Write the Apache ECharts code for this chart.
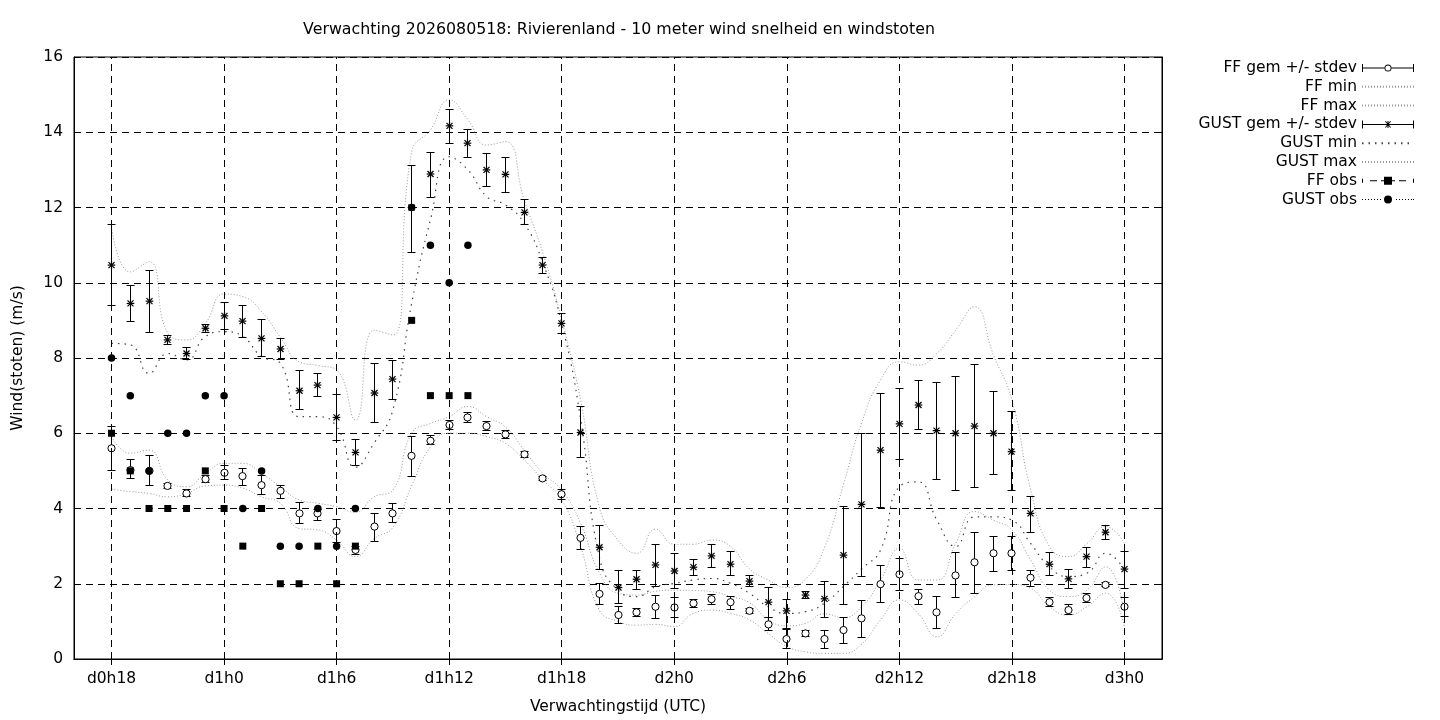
<!DOCTYPE html>
<html>
<head>
<meta charset="utf-8">
<title>Verwachting Rivierenland</title>
<script src="https://cdn.jsdelivr.net/npm/echarts@6/dist/echarts.min.js"></script>
<style>
html, body { margin: 0; padding: 0; background: #fff; }
#container { width: 1440px; height: 720px; }
</style>
</head>
<body>
<div id="container"></div>
<script>
// forecast hours, counted from d0h0
var hours = [18,19,20,21,22,23,24,25,26,27,28,29,30,31,32,33,34,35,36,37,
             38,39,40,41,42,43,44,45,46,47,48,49,50,51,52,53,54,55,56,57,
             58,59,60,61,62,63,64,65,66,67,68,69,70,71,72];

// 10 m wind (FF): mean and mean -/+ stdev
var ffMean = [5.60,5.02,5.00,4.60,4.40,4.78,4.95,4.86,4.62,4.47, 3.87,3.87,3.40,2.90,3.52,3.87,5.40,5.80,6.22,6.42,
              6.19,5.97,5.44,4.80,4.38,3.22,1.73,1.17,1.24,1.39, 1.37,1.48,1.59,1.51,1.28,0.92,0.53,0.68,0.53,0.77,
              1.08,1.99,2.25,1.67,1.24,2.22,2.57,2.81,2.81,2.16, 1.51,1.30,1.62,1.97,1.39];
var ffLo   = [5.02,4.80,4.61,4.52,4.31,4.69,4.76,4.61,4.38,4.27, 3.59,3.68,3.09,2.77,3.13,3.62,4.86,5.71,6.09,6.29,
              6.07,5.87,5.36,4.74,4.25,2.92,1.44,0.95,1.12,1.08, 1.11,1.37,1.44,1.32,1.20,0.75,0.28,0.59,0.28,0.40,
              0.58,1.51,1.83,1.46,0.82,1.64,1.75,2.32,2.34,1.94, 1.39,1.18,1.50,1.92,1.12];
var ffHi   = [6.17,5.31,5.42,4.67,4.50,4.89,5.13,5.06,4.89,4.61, 4.15,3.98,3.71,3.00,3.87,4.14,5.91,5.93,6.35,6.55,
              6.31,6.07,5.51,4.86,4.51,3.52,2.01,1.39,1.35,1.70, 1.64,1.57,1.72,1.67,1.34,1.10,0.79,0.77,0.77,1.10,
              1.55,2.48,2.68,1.85,1.66,2.83,3.37,3.25,3.25,2.35, 1.64,1.44,1.75,2.02,1.64];
var ffMin  = [4.51,4.45,4.40,4.31,4.40,4.60,4.62,4.54,4.31,4.14, 3.47,3.43,3.16,2.72,3.20,3.50,4.60,5.64,6.00,6.00,
              5.91,5.73,5.29,4.76,4.23,3.00,1.30,1.00,0.90,0.92, 0.86,1.21,1.30,1.21,1.04,0.68,0.33,0.19,0.15,0.15,
              0.40,1.04,1.57,1.21,0.59,1.20,1.65,1.97,1.98,1.88, 1.39,1.17,1.39,1.75,0.86];
var ffMax  = [5.91,5.47,5.55,4.76,4.58,4.93,5.20,5.20,4.93,4.58, 4.23,4.14,4.05,3.90,4.31,4.49,6.00,6.26,6.44,6.71,
              6.44,6.17,5.55,4.93,4.49,3.61,2.30,1.75,1.70,1.80, 1.83,1.82,1.79,1.66,1.50,1.05,0.88,0.95,1.20,1.10,
              1.39,2.10,2.94,2.10,2.10,3.07,3.92,3.69,3.43,2.63, 1.83,1.66,1.83,2.45,1.21];

// gusts: mean and mean -/+ stdev
var gustMean = [10.47,9.45,9.51,8.48,8.12,8.79,9.12,8.98,8.52,8.24, 7.13,7.28,6.42,5.49,7.07,7.44,12.00,12.89,14.17,13.71,
                13.00,12.88,11.87,10.47,8.92,6.02,2.97,1.90,2.12,2.50, 2.34,2.44,2.74,2.52,2.07,1.51,1.28,1.70,1.60,2.76,
                4.11,5.55,6.25,6.75,6.07,6.00,6.19,6.00,5.51,3.87, 2.52,2.13,2.72,3.37,2.39];
var gustLo   = [9.39,8.98,8.68,8.36,7.97,8.68,8.76,8.55,8.05,7.95, 6.64,6.99,5.82,5.13,6.28,6.90,10.81,12.27,13.71,13.33,
                12.55,12.40,11.55,10.25,8.66,5.36,2.38,1.48,1.84,1.94, 1.88,2.23,2.44,2.21,1.92,1.11,0.82,1.62,1.10,1.45,
                2.19,4.03,5.29,6.10,4.78,4.47,4.56,4.91,4.47,3.36, 2.23,1.88,2.44,3.18,1.88];
var gustHi   = [11.54,9.92,10.32,8.59,8.29,8.89,9.48,9.39,9.03,8.52, 7.66,7.59,7.03,5.84,7.86,7.93,13.11,13.47,14.61,14.08,
                13.44,13.33,12.20,10.68,9.19,6.72,3.54,2.35,2.35,3.05, 2.81,2.65,3.03,2.85,2.21,1.90,1.59,1.79,2.05,4.05,
                6.00,7.06,7.19,7.39,7.35,7.52,7.83,7.12,6.57,4.33, 2.84,2.37,2.97,3.56,2.87];
var gustMin  = [8.39,8.35,7.59,8.12,7.95,8.57,8.70,8.57,8.04,7.86, 6.44,6.44,6.18,5.10,5.74,6.62,9.45,11.67,13.35,13.00,
                12.29,12.07,11.58,10.52,8.92,6.40,2.72,1.83,1.66,1.92, 2.01,2.10,2.14,2.01,1.75,1.39,1.21,1.26,1.48,1.92,
                2.40,2.90,4.58,4.71,3.69,2.99,3.78,3.78,3.69,3.07, 2.45,2.19,2.28,2.81,2.37];
var gustMax  = [11.49,10.29,10.56,8.66,8.48,8.92,9.70,9.63,9.23,8.55, 7.90,7.80,7.68,6.35,8.74,8.61,13.48,14.06,14.86,14.33,
                13.66,13.75,12.20,10.78,9.01,6.90,4.05,3.16,2.81,3.45, 3.05,3.05,3.16,2.99,2.40,2.10,1.90,2.12,2.95,4.60,
                6.30,7.42,7.90,7.81,8.12,8.74,9.36,8.10,6.88,4.49, 2.99,2.72,3.07,3.52,3.07];

// observations
var obsHours = [18,19,20,21,22,23,24,25,26,27,28,29,30,31,34,35,36,37];
var ffObs    = [6,5,4,4,4,5,4,3,4,2,2,3,2,3,9,7,7,7];
var gustObs  = [8,7,5,6,6,7,7,4,5,3,3,4,3,4,12,11,10,11];

// x axis ticks
var xTickValues = [18,24,30,36,42,48,54,60,66,72];
var xTickLabels = ['d0h18','d1h0','d1h6','d1h12','d1h18','d2h0','d2h6','d2h12','d2h18','d3h0'];

var FONT = 'DejaVu Sans';
var dom = document.getElementById('container');
var myChart = echarts.init(dom);

function pairs(ys, xs) {
    xs = xs || hours;
    return xs.map(function (h, i) { return [h, ys[i]]; });
}

function bars(mean, lo, hi) {
    return hours.map(function (h, i) { return [h, lo[i], hi[i], mean[i]]; });
}

// snap to pixel centre so 1px strokes stay crisp
function px(v) { return Math.round(v - 0.5) + 0.5; }

// error bar with gnuplot-like marker
function errorBarItem(kind) {
    return function (params, api) {
        var x = api.value(0);
        var lo = api.coord([x, api.value(1)]);
        var hi = api.coord([x, api.value(2)]);
        var m = api.coord([x, api.value(3)]);
        var cx = px(m[0]), yl = px(lo[1]), yh = px(hi[1]), cy = m[1];
        var cap = 4;
        var ls = { stroke: '#000', lineWidth: 1 };
        var kids = [
            { type: 'line', shape: { x1: cx, y1: yl, x2: cx, y2: yh }, style: ls },
            { type: 'line', shape: { x1: cx - cap, y1: yl, x2: cx + cap, y2: yl }, style: ls },
            { type: 'line', shape: { x1: cx - cap, y1: yh, x2: cx + cap, y2: yh }, style: ls }
        ];
        if (kind === 'circle') {
            kids.push({ type: 'circle', shape: { cx: cx, cy: cy, r: 3.6 },
                        style: { fill: '#fff', stroke: '#000', lineWidth: 1 } });
        } else {
            var s = 3.8, d = 3;
            var st = { stroke: '#000', lineWidth: 1.2 };
            kids.push({ type: 'line', shape: { x1: cx - s, y1: cy, x2: cx + s, y2: cy }, style: st });
            kids.push({ type: 'line', shape: { x1: cx, y1: cy - s, x2: cx, y2: cy + s }, style: st });
            kids.push({ type: 'line', shape: { x1: cx - d, y1: cy - d, x2: cx + d, y2: cy + d }, style: st });
            kids.push({ type: 'line', shape: { x1: cx - d, y1: cy + d, x2: cx + d, y2: cy - d }, style: st });
        }
        return { type: 'group', children: kids };
    };
}

// legend samples (52 x 8 box)
var iconFF = 'path://M0,0H1V8H0Z M51,0H52V8H51Z M1,3.5H22.5V4.5H1Z M29.5,3.5H51V4.5H29.5Z ' +
    'M29.5,4A3.5,3.5,0,1,0,22.5,4A3.5,3.5,0,1,0,29.5,4Z M28.6,4A2.6,2.6,0,1,1,23.4,4A2.6,2.6,0,1,1,28.6,4Z';
var iconGust = 'path://M0,0H1V8H0Z M51,0H52V8H51Z M1,3.5H51V4.5H1Z M25.5,0.5H26.5V7.5H25.5Z ' +
    'M23,1.2L23.7,0.6L29,6.8L28.3,7.4Z M28.3,0.6L29,1.2L23.7,7.4L23,6.8Z';
var iconFFObs = 'path://M0,2H1V6H0Z M8,3.5H15V4.5H8Z M19,3.5H22V4.5H19Z M22,0H30V8H22Z ' +
    'M30,3.5H33V4.5H30Z M37,3.5H44V4.5H37Z M51,2H52V6H51Z';
var iconGustObs = 'path://M30,4A4,4,0,1,1,22,4A4,4,0,1,1,30,4Z';
[0, 3, 6, 9, 12, 15, 18, 34, 37, 40, 43, 46, 49, 51].forEach(function (x) {
    iconGustObs += ' M' + x + ',3.5H' + (x + 1) + 'V4.5H' + x + 'Z';
});

var lightDots = { color: '#9a9a9a', width: 1, type: [1, 2] };
var darkDots = { color: '#444', width: 1.2, type: [1.5, 5] };
var noSymbol = { opacity: 0, color: 'rgba(0,0,0,0)', borderWidth: 0 };

option = {
    animation: false,
    backgroundColor: '#fff',
    textStyle: { fontFamily: FONT },
    title: {
        text: 'Verwachting 2026080518: Rivierenland - 10 meter wind snelheid en windstoten',
        left: 614, top: 17, textAlign: 'center',
        textStyle: { fontFamily: FONT, fontSize: 15.8, fontWeight: 'normal', color: '#000' }
    },
    legend: {
        orient: 'vertical', right: 20, top: 55, align: 'right',
        itemWidth: 52, itemHeight: 8, itemGap: 2.8,
        selectedMode: false,
        textStyle: { fontFamily: FONT, fontSize: 15.5, color: '#000' },
        data: [
            { name: 'FF gem +/- stdev', icon: iconFF },
            { name: 'FF min', itemStyle: noSymbol },
            { name: 'FF max', itemStyle: noSymbol },
            { name: 'GUST gem +/- stdev', icon: iconGust },
            { name: 'GUST min', itemStyle: noSymbol },
            { name: 'GUST max', itemStyle: noSymbol },
            { name: 'FF obs', icon: iconFFObs },
            { name: 'GUST obs', icon: iconGustObs }
        ]
    },
    grid: {
        left: 74, right: 278, top: 57, bottom: 61,
        show: true, borderColor: '#000', borderWidth: 1, backgroundColor: 'transparent'
    },
    xAxis: [{
        type: 'value', min: 16, max: 74, position: 'bottom',
        name: 'Verwachtingstijd (UTC)', nameLocation: 'middle', nameGap: 40,
        nameTextStyle: { fontFamily: FONT, fontSize: 15.5, color: '#000' },
        axisLine: { lineStyle: { color: '#000', width: 1 } },
        axisTick: { inside: true, length: 6, customValues: xTickValues, lineStyle: { color: '#000' } },
        axisLabel: {
            customValues: xTickValues, margin: 12, color: '#000', fontFamily: FONT, fontSize: 15.5,
            formatter: function (v) { return xTickLabels[xTickValues.indexOf(v)]; }
        },
        splitLine: { show: false }
    }, {
        type: 'value', min: 16, max: 74, position: 'top',
        axisLine: { lineStyle: { color: '#000', width: 1 } },
        axisTick: { inside: true, length: 6, customValues: xTickValues, lineStyle: { color: '#000' } },
        axisLabel: { show: false },
        splitLine: { show: false }
    }],
    yAxis: [{
        type: 'value', min: 0, max: 16, interval: 2, position: 'left',
        name: 'Wind(stoten) (m/s)', nameLocation: 'middle', nameGap: 48,
        nameTextStyle: { fontFamily: FONT, fontSize: 15.5, color: '#000' },
        axisLine: { show: true, lineStyle: { color: '#000', width: 1 } },
        axisTick: { show: true, inside: true, length: 6, lineStyle: { color: '#000' } },
        axisLabel: { margin: 11, color: '#000', fontFamily: FONT, fontSize: 15.5 },
        splitLine: { show: true, lineStyle: { color: '#000', width: 1, type: [7, 5] } }
    }, {
        type: 'value', min: 0, max: 16, interval: 2, position: 'right',
        axisLine: { show: true, lineStyle: { color: '#000', width: 1 } },
        axisTick: { show: true, inside: true, length: 6, lineStyle: { color: '#000' } },
        axisLabel: { show: false },
        splitLine: { show: false }
    }],
    series: [
        {
            name: 'FF min', type: 'line', smooth: true, showSymbol: false, symbol: 'none',
            data: pairs(ffMin), lineStyle: lightDots, itemStyle: { color: '#9a9a9a' }, z: 2,
            markLine: {
                silent: true, symbol: ['none', 'none'], label: { show: false },
                lineStyle: { color: '#000', width: 1, type: [7, 5] },
                data: xTickValues.map(function (v) { return { xAxis: v }; })
            }
        },
        {
            name: 'FF max', type: 'line', smooth: true, showSymbol: false, symbol: 'none',
            data: pairs(ffMax), lineStyle: lightDots, itemStyle: { color: '#9a9a9a' }, z: 2
        },
        {
            name: 'GUST min', type: 'line', smooth: true, showSymbol: false, symbol: 'none',
            data: pairs(gustMin), lineStyle: darkDots, itemStyle: { color: '#444' }, z: 2
        },
        {
            name: 'GUST max', type: 'line', smooth: true, showSymbol: false, symbol: 'none',
            data: pairs(gustMax), lineStyle: lightDots, itemStyle: { color: '#9a9a9a' }, z: 2
        },
        {
            name: 'FF gem +/- stdev', type: 'custom', renderItem: errorBarItem('circle'),
            data: bars(ffMean, ffLo, ffHi), encode: { x: 0, y: [1, 2, 3] },
            itemStyle: { color: '#000' }, z: 3
        },
        {
            name: 'GUST gem +/- stdev', type: 'custom', renderItem: errorBarItem('star'),
            data: bars(gustMean, gustLo, gustHi), encode: { x: 0, y: [1, 2, 3] },
            itemStyle: { color: '#000' }, z: 3
        },
        {
            name: 'FF obs', type: 'scatter', symbol: 'rect', symbolSize: 7,
            data: pairs(ffObs, obsHours), itemStyle: { color: '#000', opacity: 1 }, z: 4
        },
        {
            name: 'GUST obs', type: 'scatter', symbol: 'circle', symbolSize: 7.5,
            data: pairs(gustObs, obsHours), itemStyle: { color: '#000', opacity: 1 }, z: 4
        }
    ]
};

if (option && typeof option === 'object') {
    myChart.setOption(option, true);
}
</script>
</body>
</html>
